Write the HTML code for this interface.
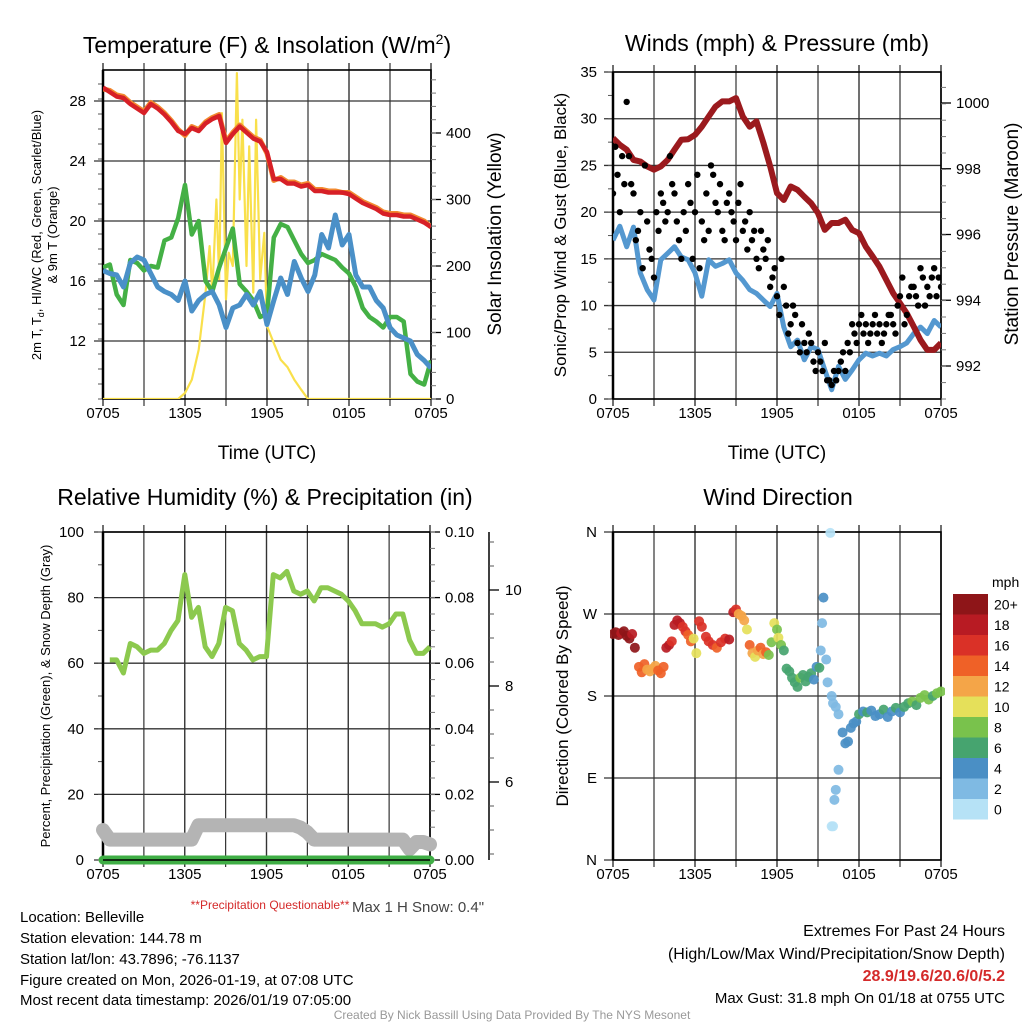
<!DOCTYPE html>
<html><head><meta charset="utf-8"><title>Belleville Meteogram</title>
<style>
html,body{margin:0;padding:0;background:#fff;}
svg{display:block;font-family:"Liberation Sans",Arial,sans-serif;}
</style></head>
<body>
<svg id="chart" width="1024" height="1024" viewBox="0 0 1024 1024" xmlns="http://www.w3.org/2000/svg">
<rect width="1024" height="1024" fill="#fff"/>
<g id="p1"></g>
<g id="p2"></g>
<g id="p3"></g>
<g id="p4"></g>

<text x="267" y="53" font-size="23" text-anchor="middle">Temperature (F) &amp; Insolation (W/m<tspan font-size="14" dy="-9">2</tspan><tspan dy="9">)</tspan></text>
<text x="777" y="51" font-size="23" text-anchor="middle">Winds (mph) &amp; Pressure (mb)</text>
<text x="265" y="505" font-size="23" text-anchor="middle">Relative Humidity (%) &amp; Precipitation (in)</text>
<text x="778" y="505" font-size="23" text-anchor="middle">Wind Direction</text>

<text x="267" y="459" font-size="19" text-anchor="middle">Time (UTC)</text>
<text x="777" y="459" font-size="19" text-anchor="middle">Time (UTC)</text>

<text transform="translate(41,235) rotate(-90)" font-size="13" text-anchor="middle">2m T, T<tspan font-size="9" dy="3">d</tspan><tspan dy="-3">, HI/WC (Red, Green, Scarlet/Blue)</tspan></text>
<text transform="translate(57,235) rotate(-90)" font-size="13" text-anchor="middle">&amp; 9m T (Orange)</text>
<text transform="translate(501,234) rotate(-90)" font-size="19" text-anchor="middle">Solar Insolation (Yellow)</text>
<text transform="translate(566,235) rotate(-90)" font-size="17" text-anchor="middle">Sonic/Prop Wind &amp; Gust (Blue, Black)</text>
<text transform="translate(1018,234) rotate(-90)" font-size="19" text-anchor="middle">Station Pressure (Maroon)</text>
<text transform="translate(50,696) rotate(-90)" font-size="13" text-anchor="middle">Percent, Precipitation (Green), &amp; Snow Depth (Gray)</text>
<text transform="translate(568,696) rotate(-90)" font-size="17" text-anchor="middle">Direction (Colored By Speed)</text>

<text x="992" y="587" font-size="14" text-anchor="start">mph</text>
<g id="cbar"></g>

<text x="270" y="909" font-size="12" fill="#d42a2a" text-anchor="middle">**Precipitation Questionable**</text>
<text x="418" y="912" font-size="15" fill="#444" text-anchor="middle">Max 1 H Snow: 0.4"</text>

<g font-size="15">
<text x="20" y="922">Location: Belleville</text>
<text x="20" y="943">Station elevation: 144.78 m</text>
<text x="20" y="964">Station lat/lon: 43.7896; -76.1137</text>
<text x="20" y="985">Figure created on Mon, 2026-01-19, at 07:08 UTC</text>
<text x="20" y="1005">Most recent data timestamp: 2026/01/19 07:05:00</text>
</g>
<g font-size="16" text-anchor="end">
<text x="1005" y="936">Extremes For Past 24 Hours</text>
<text x="1005" y="959">(High/Low/Max Wind/Precipitation/Snow Depth)</text>
<text x="1005" y="981" fill="#d42a2a" font-weight="bold">28.9/19.6/20.6/0/5.2</text>
<text x="1005" y="1003" font-size="15">Max Gust: 31.8 mph On 01/18 at 0755 UTC</text>
</g>
<text x="512" y="1019" font-size="12" fill="#999" text-anchor="middle">Created By Nick Bassill Using Data Provided By The NYS Mesonet</text>
</svg>

<script>
// ---------- data ----------
const halfHours = [0,0.5,1,1.5,2,2.5,3,3.5,4,4.5,5,5.5,6,6.5,7,7.5,8,8.5,9,9.5,10,10.5,11,11.5,12,12.5,13,13.5,14,14.5,15,15.5,16,16.5,17,17.5,18,18.5,19,19.5,20,20.5,21,21.5,22,22.5,23,23.5,24];
const xTickLabels = ["0705","1305","1905","0105","0705"];
const tempValues = [28.9,28.6,28.3,28.2,27.8,27.5,27.2,27.8,27.5,27.1,26.6,26.0,25.8,26.2,26.0,26.5,26.8,27.0,25.2,25.8,26.3,25.9,25.5,25.3,24.6,22.8,22.8,22.5,22.5,22.3,22.4,22.0,22.0,21.9,21.9,21.9,21.8,21.5,21.2,21.0,20.8,20.5,20.4,20.4,20.3,20.3,20.1,19.9,19.6];
const temp9mValues = [28.8,28.7,28.4,28.3,27.9,27.6,27.3,27.9,27.6,27.2,26.7,26.1,25.7,26.3,26.1,26.6,26.9,27.1,25.3,25.9,26.4,26.0,25.6,25.4,24.5,22.7,22.9,22.6,22.6,22.4,22.5,22.1,22.1,22.0,22.0,21.9,21.9,21.6,21.3,21.1,20.9,20.6,20.5,20.5,20.4,20.4,20.2,20.0,19.6];
const dewValues = [16.9,17.1,15.1,14.4,17.4,17.2,16.7,17.0,16.9,18.7,18.9,20.2,22.4,19.1,20.0,16.0,15.3,16.9,18.2,19.5,15.8,15.3,14.7,13.6,13.8,18.9,19.8,19.6,18.7,17.8,17.2,17.4,17.8,17.6,17.4,16.9,16.5,15.6,14.2,13.6,13.3,12.9,13.6,13.6,13.3,9.8,9.3,9.1,10.7];
const chillValues = [16.7,16.5,16.4,15.6,17.2,17.6,17.4,16.5,15.6,15.3,15.1,14.7,16.0,14.0,14.7,15.1,15.3,14.4,12.9,14.2,14.4,15.1,14.4,15.3,13.1,14.7,16.2,15.1,17.3,16.2,15.3,16.4,19.1,18.2,20.4,18.4,19.1,16.4,15.6,15.6,14.7,14.2,12.9,12.4,12.2,12.0,11.1,10.7,10.2];
const solarTimes = [0,5.5,6,6.5,7,7.5,7.8,8,8.3,8.5,8.7,9,9.2,9.5,9.8,10,10.2,10.5,10.7,11,11.2,11.5,11.8,12,12.5,13,13.5,14,14.5,15,24];
const solarValues = [0,0,9,29,74,159,230,160,300,180,430,150,220,200,490,300,420,200,380,160,420,180,250,110,84,59,48,29,14,0,0];
const tempTicks = [12,16,20,24,28];
const solarTicks = [0,100,200,300,400];

const pressureValues = [998.93,998.73,998.58,998.27,998.22,998.07,997.97,998.07,998.27,998.58,998.88,998.9,999.03,999.28,999.59,999.89,1000.05,1000.05,1000.15,999.59,999.28,999.44,998.8,998.07,997.26,997.05,997.46,997.36,997.15,996.95,996.65,996.14,996.35,996.35,996.45,996.14,996.04,995.63,995.33,995.02,994.62,994.21,993.91,993.6,993.2,992.79,992.49,992.49,992.7];
const windValues = [17.0,18.5,16.3,18.4,13.5,11.7,10.6,14.9,15.6,16.3,15.2,14.9,13.5,11.0,14.9,14.2,14.5,14.9,13.5,12.7,11.7,11.3,10.6,9.9,11.3,7.7,5.6,6.3,4.2,5.6,5.3,3.1,1.0,3.5,2.1,3.1,4.2,4.9,4.6,4.9,4.6,5.3,5.6,6.0,7.0,7.7,7.0,8.4,7.7];
const gustTimes = [0,0.17,0.33,0.5,0.67,0.83,1,1.17,1.33,1.5,1.67,1.83,2,2.17,2.33,2.5,2.67,2.83,3,3.17,3.33,3.5,3.67,3.83,4,4.17,4.33,4.5,4.67,4.83,5,5.17,5.33,5.5,5.67,5.83,6,6.17,6.33,6.5,6.67,6.83,7,7.17,7.33,7.5,7.67,7.83,8,8.17,8.33,8.5,8.67,8.83,9,9.17,9.33,9.5,9.67,9.83,10,10.17,10.33,10.5,10.67,10.83,11,11.17,11.33,11.5,11.67,11.83,12,12.17,12.33,12.5,12.67,12.83,13,13.17,13.33,13.5,13.67,13.83,14,14.17,14.33,14.5,14.67,14.83,15,15.17,15.33,15.5,15.67,15.83,16,16.17,16.33,16.5,16.67,16.83,17,17.17,17.33,17.5,17.67,17.83,18,18.17,18.33,18.5,18.67,18.83,19,19.17,19.33,19.5,19.67,19.83,20,20.17,20.33,20.5,20.67,20.83,21,21.17,21.33,21.5,21.67,21.83,22,22.17,22.33,22.5,22.67,22.83,23,23.17,23.33,23.5,23.67,23.83,24];
const gustValues = [22,27,24,20,26,23,31.8,26,23,22,17,18,20,14,25,19,16,15,13,20,18,22,21,19,20,26,23,22,19,17,15,20,18,23,21,15,20,24,14,19,17,22,18,25,24,21,20,23,18,17,21,22,20,19,17,21,23,18,19,16,20,17,18,15,14,18,16,15,17,12,13,14,11,9,15,12,10,7,8,10,9,6,5,8,6,5,7,6,4,3,5,4,3,6,2,2,1.5,3,2,3,4,5,3,6,5,8,7,6,8,9,7,8,6,7,8,9,7,8,6,7,8,9,9,8,7,10,11,13,8,9,11,12,12,11,10,14,13,10,12,11,13,14,11,13,12];
const windTicks = [0,5,10,15,20,25,30,35];
const pressureTicks = [992,994,996,998,1000];

const rhValues = [null,61,61,57,66,65,63,64,64,66,70,73,87,74,77,65,62,66,77,76,66,64,61,62,62,87,86,88,82,81,82,79,83,83,82,81,79,76,72,72,72,71,72,75,75,67,63,63,65];
const snowValues = [5.0,4.8,4.8,4.8,4.8,4.8,4.8,4.8,4.8,4.8,4.8,4.8,4.8,4.8,5.1,5.1,5.1,5.1,5.1,5.1,5.1,5.1,5.1,5.1,5.1,5.1,5.1,5.1,5.1,5.05,4.95,4.8,4.8,4.8,4.8,4.8,4.8,4.8,4.8,4.8,4.8,4.8,4.8,4.8,4.8,4.6,4.75,4.75,4.7];
const precipValues = [0,0,0,0,0,0,0,0,0,0,0,0,0,0,0,0,0,0,0,0,0,0,0,0,0,0,0,0,0,0,0,0,0,0,0,0,0,0,0,0,0,0,0,0,0,0,0,0,0];
const rhTicks = [0,20,40,60,80,100];
const precipTickLabels = ["0.00","0.02","0.04","0.06","0.08","0.10"];
const snowTicks = [6,8,10];

const dirTimes = [0.0,0.2,0.4,0.6,0.8,1.0,1.2,1.4,1.6,1.9,2.1,2.3,2.5,2.7,2.9,3.1,3.3,3.5,3.7,3.9,4.1,4.3,4.5,4.7,4.9,5.1,5.3,5.5,5.7,5.9,6.1,6.3,6.5,6.8,7.0,7.3,7.6,7.9,8.2,8.5,8.8,9.0,9.2,9.4,9.6,9.8,10.0,10.2,10.4,10.6,10.8,11.0,11.2,11.4,11.6,11.8,12.0,12.1,12.3,12.5,12.7,12.9,13.1,13.3,13.5,13.7,13.9,14.1,14.3,14.5,14.7,14.9,15.1,15.2,15.3,15.4,15.6,15.7,15.9,16.0,16.1,16.3,16.5,16.3,16.2,16.0,16.1,16.5,16.8,17.0,17.2,17.4,17.6,17.8,18.0,18.3,18.6,18.9,19.2,19.5,19.8,20.1,20.4,20.7,21.0,21.3,21.6,21.9,22.2,22.5,22.8,23.1,23.4,23.7,24.0];
const dirDegrees = [248,250,247,249,251,246,243,248,233,212,206,215,209,207,210,213,208,205,212,233,236,240,258,263,260,256,251,247,240,243,227,262,256,245,240,236,233,239,243,242,272,275,270,268,263,253,236,227,223,230,233,226,228,225,239,260,253,244,236,230,210,207,200,195,190,200,203,196,201,205,198,212,211,230,260,288,220,195,359,180,172,168,99,77,66,37,37,160,140,128,130,145,150,152,160,163,162,164,158,160,165,157,163,167,162,168,172,174,170,178,181,176,180,183,185];
const dirSpeeds = [19,20,19,18,19,20,21,18,20,13,14,13,12,12,11,12,13,14,14,17,17,16,17,18,17,15,15,14,13,10,10,15,15,16,15,15,14,15,16,17,17,16,12,12,11,10,14,12,10,12,13,12,13,8,8,10,8,9,7,6,6,6,5,6,5,7,6,5,6,5,4,4,5,2,2,3,2,1,0,1,1,1,1,1,2,0,0,2,3,4,3,3,4,4,5,4,5,4,4,4,5,4,4,5,4,6,6,7,6,7,8,7,6,7,7];
const dirTickLabels = ["N","E","S","W","N"];
const speedBins = ["0","2","4","6","8","10","12","14","16","18","20+"];
const speedColors = ["#b6e2f6","#7fbae3","#4a8fc5","#46a46f","#79c24c","#e5e05a","#f4a548","#ef6127","#da3127","#b81b23","#8e1518"];

// ---------- helpers ----------
const NS = "http://www.w3.org/2000/svg";
function el(tag, attrs, parent){ const e=document.createElementNS(NS,tag); for(const k in attrs) e.setAttribute(k,attrs[k]); parent.appendChild(e); return e; }
function lin(d0,d1,r0,r1){ return v => r0+(v-d0)/(d1-d0)*(r1-r0); }
function pathD(ts, vs, xf, yf){ let d="", pen=false; for(let i=0;i<ts.length;i++){ if(vs[i]===null){pen=false;continue;} d+=(pen?"L":"M")+xf(ts[i]).toFixed(1)+","+yf(vs[i]).toFixed(1); pen=true;} return d; }

function frame(g, x0, x1, y0, y1, hTicks, yf, labelFn, labelX, minorStep, rightTicks){
  // horizontal grid
  hTicks.forEach((v,i)=>{
    const y=yf(v);
    const l=el("line",{x1:x0-9,x2:x1,y1:y,y2:y,stroke:"#333","stroke-width":1.3},g);
    
    
    const t=el("text",{x:labelX,y:y+5,"font-size":15,"text-anchor":"end"},g);
    t.textContent=labelFn(v,i);
    
    
  });
  // minor left ticks
  if(minorStep){
    for(let y=y1; y>=y0-0.5; y-=minorStep){
      const m=el("line",{x1:x0-5,x2:x0,y1:y,y2:y,stroke:"#555","stroke-width":1},g);
      
      
    }
  }
  // vertical grid every 3h
  for(let k=0;k<=8;k++){
    const x=x0+(x1-x0)*k/8;
    const l=el("line",{x1:x,x2:x,y1:y0-7,y2:y1+7,stroke:"#333","stroke-width":(k%2?1.2:1.4)},g);
    
    
    if(k%2===0){
      const t=el("text",{x:x,y:y1+19,"font-size":15,"text-anchor":"middle"},g);
      t.textContent=xTickLabels[k/2];
      
      
    }
  }
  const b=el("rect",{x:x0,y:y0,width:x1-x0,height:y1-y0,fill:"none",stroke:"#000","stroke-width":1.6},g);
  
  
  const la=el("line",{x1:x0,x2:x0,y1:y0,y2:y1,stroke:"#000","stroke-width":2.5},g);
  
  
}
function rightAxis(g, x, ticks, yf, labelFn, y0, y1, minorStep){
  ticks.forEach((v,i)=>{
    const y=yf(v);
    const l=el("line",{x1:x,x2:x+10,y1:y,y2:y,stroke:"#000","stroke-width":1.3},g);
    
    
    const t=el("text",{x:x+15,y:y+5,"font-size":15},g);
    t.textContent=labelFn(v,i);
    
    
  });
  if(minorStep){
    for(let y=y1;y>=y0-0.5;y-=minorStep){
      const m=el("line",{x1:x,x2:x+5,y1:y,y2:y,stroke:"#777","stroke-width":1},g);
      
      
    }
  }
}

// ---------- panel 1 ----------
(function(){
  const g=document.getElementById("p1");
  const X=lin(0,24,103,431), T=lin(12,28,341,101), S=lin(0,400,399,133);
  frame(g,103,431,70,399,tempTicks,T,v=>v,86,15);
  rightAxis(g,431,solarTicks,S,v=>v,70,399,13.3);
  const clip=el("clipPath",{id:"c1"},g); el("rect",{x:103,y:70,width:328,height:329},clip);
  const dg=el("g",{"clip-path":"url(#c1)"},g);
  const sol=el("path",{d:pathD(solarTimes,solarValues,X,S),fill:"none",stroke:"#f9e04b","stroke-width":2.2,"stroke-linejoin":"round"},dg);
  
  
  const dew=el("path",{d:pathD(halfHours,dewValues,X,T),fill:"none",stroke:"#44b045","stroke-width":4.5,"stroke-linejoin":"round"},dg);
  
  
  const wc=el("path",{d:pathD(halfHours,chillValues,X,T),fill:"none",stroke:"#4a90c8","stroke-width":5,"stroke-linejoin":"round"},dg);
  
  
  const t9=el("path",{d:pathD(halfHours,temp9mValues,X,T),fill:"none",stroke:"#f28a30","stroke-width":5,"stroke-linejoin":"round"},dg);
  
  
  const t2=el("path",{d:pathD(halfHours,tempValues,X,T),fill:"none",stroke:"#d72027","stroke-width":4.5,"stroke-linejoin":"round"},dg);
  
  
})();

// ---------- panel 2 ----------
(function(){
  const g=document.getElementById("p2");
  const X=lin(0,24,613,941), W=lin(0,35,399,72), P=lin(992,1000,366,103);
  frame(g,613,941,72,399,windTicks,W,v=>v,597,23.35);
  rightAxis(g,941,pressureTicks,P,v=>v,72,399,16.4);
  const clip=el("clipPath",{id:"c2"},g); el("rect",{x:613,y:72,width:328,height:327},clip);
  const dg=el("g",{"clip-path":"url(#c2)"},g);
  const w=el("path",{d:pathD(halfHours,windValues,X,W),fill:"none",stroke:"#5498d0","stroke-width":5,"stroke-linejoin":"round"},dg);
  
  
  const p=el("path",{d:pathD(halfHours,pressureValues,X,P),fill:"none",stroke:"#9b1a1e","stroke-width":6,"stroke-linejoin":"round"},dg);
  
  
  gustTimes.forEach((t,i)=>{
    const c=el("circle",{cx:X(t),cy:W(gustValues[i]),r:3.2,fill:"#000"},dg);
    
    
  });
})();

// ---------- panel 3 ----------
(function(){
  const g=document.getElementById("p3");
  const X=lin(0,24,103,430), RH=lin(0,100,860,532), SN=lin(6,10,782,590);
  frame(g,103,430,532,860,rhTicks,RH,v=>v,84,32.8);
  rightAxis(g,430,rhTicks,RH,(v,i)=>precipTickLabels[i],532,860,16.4);
  const sa=el("line",{x1:489,x2:489,y1:532,y2:860,stroke:"#000","stroke-width":1.5},g);
  
  
  for(let y=SN(10)+ (SN(9.5)-SN(10))*-2; y<=860; y+=24){
    const m=el("line",{x1:489,x2:494,y1:y,y2:y,stroke:"#555","stroke-width":1},g);
    
    
  }
  snowTicks.forEach(v=>{
    const l=el("line",{x1:489,x2:499,y1:SN(v),y2:SN(v),stroke:"#000","stroke-width":1.3},g);
    
    
    const t=el("text",{x:505,y:SN(v)+5,"font-size":15},g);
    t.textContent=v;
    
    
  });
  const sn=el("path",{d:pathD(halfHours,snowValues,X,SN),fill:"none",stroke:"#b4b4b4","stroke-width":14,"stroke-linejoin":"round","stroke-linecap":"round"},g);
  
  
  const pr=el("path",{d:pathD(halfHours,precipValues,X,v=>RH(v*1000)),fill:"none",stroke:"#3fae45","stroke-width":9,"stroke-linecap":"round"},g);
  
  
  const rh=el("path",{d:pathD(halfHours,rhValues,X,RH),fill:"none",stroke:"#8cc94e","stroke-width":5,"stroke-linejoin":"round"},g);
  
  
  const ax=el("line",{x1:103,x2:430,y1:860,y2:860,stroke:"#000","stroke-width":1.5},g);
  
  
})();

// ---------- panel 4 ----------
(function(){
  const g=document.getElementById("p4");
  const X=lin(0,24,613,941), D=lin(0,360,860,532);
  frame(g,613,941,532,860,[0,90,180,270,360],D,(v,i)=>dirTickLabels[i],597,0);
  const clip=el("clipPath",{id:"c4"},g); el("rect",{x:610,y:525,width:335,height:340},clip);
  const dg=el("g",{"clip-path":"url(#c4)"},g);
  dirTimes.forEach((t,i)=>{
    const bin=Math.min(10,Math.floor((dirSpeeds[i]+1)/2));
    const c=el("circle",{cx:X(t),cy:D(dirDegrees[i]),r:5,fill:speedColors[bin],"fill-opacity":0.92},dg);
    
    
  });
  const cb=document.getElementById("cbar");
  for(let i=0;i<11;i++){
    const y=594+(10-i)*20.5;
    const r=el("rect",{x:953,y:y,width:35,height:20.5,fill:speedColors[i]},cb);
    
    
    const t=el("text",{x:994,y:y+15.5,"font-size":14},cb);
    t.textContent=speedBins[i];
    
    
  }
})();
</script>
</body></html>
